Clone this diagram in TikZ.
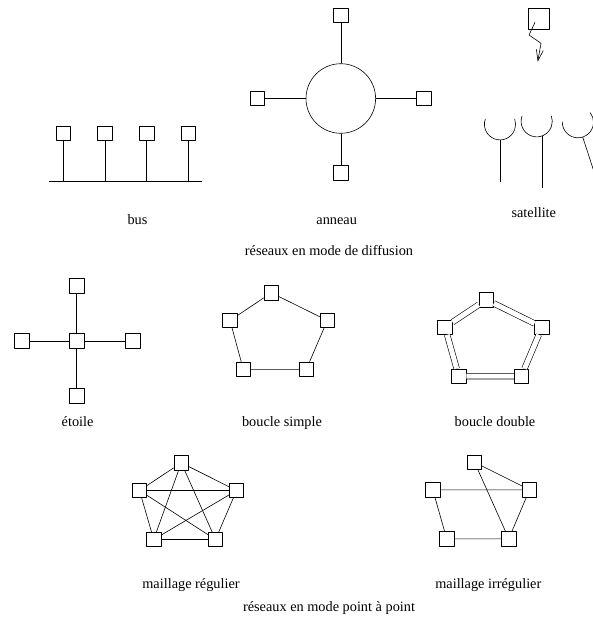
\documentclass[tikz,border=0pt]{standalone}
\usepackage{fontspec}
\setmainfont{Liberation Serif}
\usetikzlibrary{arrows.meta}

\begin{document}
\begin{tikzpicture}[x=1pt, y=1pt, line width=0.6pt, line join=round, >={Straight Barb[length=11pt,width=7pt]},
		font=\fontsize{14.3}{17}\selectfont,
		poste/.style={draw, fill=white, minimum size=14.5pt, inner sep=0pt},
		nom/.style={anchor=base, inner sep=0pt}
		]
		\useasboundingbox (0,0) rectangle (592,-620);
	% bus
		\foreach \i/\x in {1/63.3,2/105,3/146.7,4/188.3} {
			\node[poste] (b\i) at (\x,-133.3) {};
			\coordinate (p\i) at (\x,-181.7);
			\draw (b\i) -- (p\i);
		}
		\coordinate (bw) at (49.3,-181.7);
		\coordinate (be) at (201.7,-181.7);
		\draw (bw) -- (be);
		\node[nom] (lbus) at (137.5,-224) {bus};
	% anneau
		\node[draw, circle, minimum size=69.6pt, inner sep=0pt] (ring) at (340.8,-98.5) {};
		\node[poste] (an) at (340.8,-15.5) {};
		\node[poste] (aw) at (257.2,-98.5) {};
		\node[poste] (ae) at (423.8,-98.5) {};
		\node[poste] (as) at (340.8,-172.8) {};
		\foreach \n in {an,aw,ae,as} \draw (ring) -- (\n);
		\node[nom] (lann) at (336.7,-224) {anneau};
	% satellite
		\node[poste, minimum size=21pt] (sat) at (538.8,-18.8) {};
		\coordinate (z0) at (535,-22.3);
		\coordinate (z1) at (529,-35);
		\coordinate (z2) at (541,-43.3);
		\coordinate (z3) at (537.7,-61.7);
		\draw[->] (z0) -- (z1) -- (z2) -- (z3);
		\coordinate (c1) at (500,-124.3);
		\coordinate (c2) at (536.7,-121.3);
		\coordinate (c3) at (577.9,-122.2);
		\draw ([shift={(160:15.6)}]c1) arc[start angle=160, end angle=380, radius=15.6];
		\draw ([shift={(160:15.6)}]c2) arc[start angle=160, end angle=380, radius=15.6];
		\draw ([shift={(178:15.6)}]c3) arc[start angle=178, end angle=398, radius=15.6];
		\coordinate (d1) at (500,-139.9);
		\coordinate (m1) at (500,-181.7);
		\coordinate (d2) at (542.7,-135.7);
		\coordinate (m2) at (542.7,-188.3);
		\coordinate (d3) at ([shift={(288:15.6)}]c3);
		\coordinate (m3) at ([shift={(288:40)}]d3);
		\draw (d1) -- (m1);
		\draw (d2) -- (m2);
		\draw (d3) -- (m3);
		\node[nom] (lsat) at (533.8,-218) {satellite};
		\node[nom] (ldif) at (329,-255) {réseaux en mode de diffusion};
	% etoile
		\node[poste] (s0) at (76.7,-341) {};
		\node[poste] (s1) at (76.7,-286) {};
		\node[poste] (s2) at (21.7,-341) {};
		\node[poste] (s3) at (132.7,-341) {};
		\node[poste] (s4) at (76.7,-396) {};
		\foreach \i in {1,...,4} \draw (s0) -- (s\i);
		\node[nom] (leto) at (77.6,-426) {étoile};
	% boucle simple
		\node[poste] (u1) at (271.3,-292.8) {};
		\node[poste] (u2) at (327.3,-320.5) {};
		\node[poste] (u3) at (306.3,-369.3) {};
		\node[poste] (u4) at (243.3,-369.3) {};
		\node[poste] (u5) at (230,-320.5) {};
		\draw (u1) -- (u2) -- (u3) -- (u4) -- (u5) -- (u1);
		\node[nom] (lbs) at (282,-426) {boucle simple};
	% boucle double
		\node[poste] (v1) at (486.3,-299.7) {};
		\node[poste] (v2) at (542,-327.2) {};
		\node[poste] (v3) at (521.3,-376.2) {};
		\node[poste] (v4) at (458.8,-376.2) {};
		\node[poste] (v5) at (445,-327.2) {};
		\draw[double, double distance=5pt] (v1) -- (v2) -- (v3) -- (v4) -- (v5) -- (v1);
		\node[nom] (lbd) at (495,-426) {boucle double};
	% maillage regulier
		\node[poste] (w1) at (181.3,-462.8) {};
		\node[poste] (w2) at (236.5,-490.5) {};
		\node[poste] (w3) at (215.5,-539.5) {};
		\node[poste] (w4) at (153.7,-539.5) {};
		\node[poste] (w5) at (139.5,-490.5) {};
		\foreach \i in {1,...,4} {
			\pgfmathtruncatemacro\k{\i+1}
			\foreach \j in {\k,...,5} \draw (w\i) -- (w\j);
		}
		\node[nom] (lmr) at (191,-588) {maillage régulier};
	% maillage irregulier
		\node[poste] (i1) at (474.5,-462.2) {};
		\node[poste] (i2) at (529.5,-489.8) {};
		\node[poste] (i3) at (508.8,-538.8) {};
		\node[poste] (i4) at (446.7,-538.8) {};
		\node[poste] (i5) at (432.8,-489.8) {};
		\draw (i1) -- (i2) -- (i3) -- (i4) -- (i5) -- (i2);
		\draw (i1) -- (i3);
		\node[nom] (lmi) at (488.3,-588) {maillage irrégulier};
		\node[nom] (lpp) at (329,-611.7) {réseaux en mode point à point};

\end{tikzpicture}
\end{document}
